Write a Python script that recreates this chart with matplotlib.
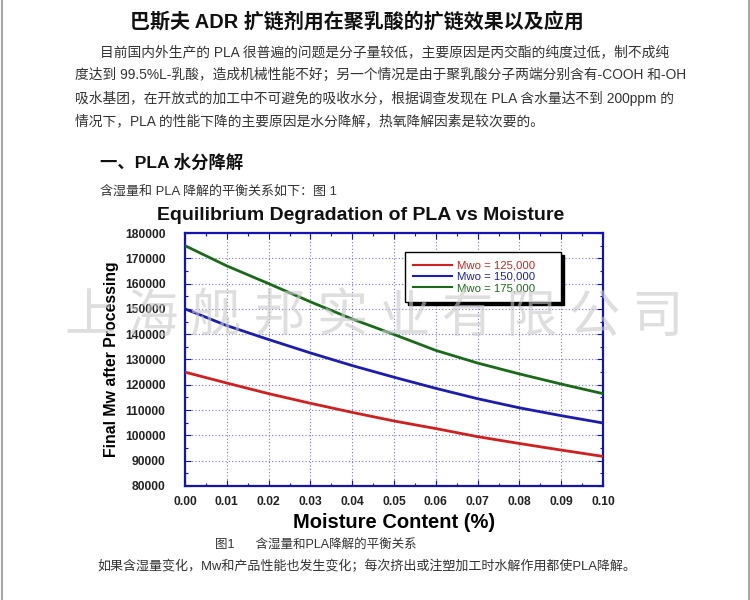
import matplotlib
matplotlib.use("Agg")
import matplotlib.pyplot as plt
from matplotlib.lines import Line2D
from matplotlib.ticker import MultipleLocator, FormatStrFormatter

plt.rcParams['font.family'] = ['Liberation Sans', 'Noto Sans CJK SC', 'DejaVu Sans']

# ---------------- data ----------------
moisture = [0.00, 0.01, 0.02, 0.03, 0.04, 0.05, 0.06, 0.07, 0.08, 0.09, 0.10]
mw_125 = [125000, 120700, 116500, 112700, 109100, 105700, 102700, 99500, 96800, 94200, 91700]
mw_150 = [150000, 143400, 137900, 132600, 127600, 123000, 118600, 114500, 110900, 107800, 104900]
mw_175 = [175000, 167000, 160000, 152800, 146000, 139900, 133600, 128600, 124300, 120300, 116500]
series_labels = ["Mwo = 125,000", "Mwo = 150,000", "Mwo = 175,000"]
series_colors = ["#d02020", "#1c1cb0", "#1a6a1a"]

page_title = "巴斯夫 ADR 扩链剂用在聚乳酸的扩链效果以及应用"
para_lines = [
    "目前国内外生产的 PLA 很普遍的问题是分子量较低，主要原因是丙交酯的纯度过低，制不成纯",
    "度达到 99.5%L-乳酸，造成机械性能不好；另一个情况是由于聚乳酸分子两端分别含有-COOH 和-OH",
    "吸水基团，在开放式的加工中不可避免的吸收水分，根据调查发现在 PLA 含水量达不到 200ppm 的",
    "情况下，PLA 的性能下降的主要原因是水分降解，热氧降解因素是较次要的。",
]
section_head = "一、PLA 水分降解"
intro_line = "含湿量和 PLA 降解的平衡关系如下：图 1"
chart_title = "Equilibrium Degradation of PLA vs Moisture"
caption = "图1      含湿量和PLA降解的平衡关系"
last_line = "如果含湿量变化，Mw和产品性能也发生变化；每次挤出或注塑加工时水解作用都使PLA降解。"
watermark = "上海舰邦实业有限公司"

# ---------------- page ----------------
W, H = 750, 600
fig = plt.figure(figsize=(7.5, 6), dpi=100)
fig.patch.set_facecolor("white")


def fy(py):
    return 1 - py / H


def fx(px):
    return px / W


# side borders of the scanned page
fig.add_artist(Line2D([fx(2), fx(2)], [0, 1], color="#a8a8a8", lw=1.5))
fig.add_artist(Line2D([fx(748.5), fx(748.5)], [0, 1], color="#a8a8a8", lw=1.5))

fig.text(fx(357), fy(23), page_title, ha="center", va="center",
         fontsize=14.4, fontweight="bold", color="#111111")

para_x = [100, 75, 75, 75]
para_y = [52, 75, 98, 121]
for x, y, line in zip(para_x, para_y, para_lines):
    fig.text(fx(x), fy(y), line, ha="left", va="center", fontsize=9.9, color="#333333")

fig.text(fx(100), fy(162), section_head, ha="left", va="center",
         fontsize=12.5, fontweight="bold", color="#111111")
fig.text(fx(100), fy(191), intro_line, ha="left", va="center",
         fontsize=9.4, color="#333333")

fig.text(fx(361), fy(215), chart_title, ha="center", va="center",
         fontsize=14, fontweight="bold", color="#111111")

# ---------------- chart ----------------
ax = fig.add_axes([fx(185), fy(486), (603 - 185) / W, (486 - 233) / H])

for vals, lab, col in zip([mw_125, mw_150, mw_175], series_labels, series_colors):
    ax.plot(moisture, vals, color=col, lw=2.0, label=lab, zorder=3)

ax.set_xlim(0, 0.10)
ax.set_ylim(80000, 180000)
ax.xaxis.set_major_locator(MultipleLocator(0.01))
ax.xaxis.set_minor_locator(MultipleLocator(0.005))
ax.yaxis.set_major_locator(MultipleLocator(10000))
ax.yaxis.set_minor_locator(MultipleLocator(5000))
ax.xaxis.set_major_formatter(FormatStrFormatter("%.2f"))
ax.yaxis.set_major_formatter(FormatStrFormatter("%d"))

ax.grid(True, which="major", linestyle=(0, (1, 2)), color="#7878d0", lw=0.8)
for s in ax.spines.values():
    s.set_color("#1414b4")
    s.set_linewidth(1.6)
ax.tick_params(which="both", direction="in", top=True, right=True, color="#1414b4")
ax.tick_params(which="major", length=4, width=0.8, labelsize=8.7)
ax.tick_params(axis="y", which="major", pad=14)
ax.tick_params(axis="x", which="major", pad=7)
ax.tick_params(which="minor", length=2.5, width=0.8)
for lbl in ax.get_xticklabels() + ax.get_yticklabels():
    lbl.set_fontweight("bold")
    lbl.set_color("#222222")

ax.set_xlabel("Moisture Content (%)", fontsize=14.5, fontweight="bold", labelpad=4)
ax.set_ylabel("Final Mw after Processing", fontsize=11.4, fontweight="bold", labelpad=4)

leg = ax.legend(loc="upper left", bbox_to_anchor=(0.526, 0.925, 0.373, 0.0),
                mode="expand", fontsize=8.2,
                frameon=True, fancybox=False, edgecolor="black",
                shadow={"color": "black", "alpha": 1.0, "ox": 2.2, "oy": -2.2},
                labelcolor="linecolor", handlelength=3.4, handletextpad=0.45,
                labelspacing=0.12, borderpad=0.75, borderaxespad=0)
leg.get_frame().set_linewidth(1.0)
for h in leg.legend_handles:
    h.set_linewidth(1.5)

# ---------------- captions ----------------
fig.text(fx(215), fy(546), caption, ha="left", va="center", fontsize=9.0, color="#333333")
fig.text(fx(97), fy(566), last_line, ha="left", va="center", fontsize=9.4, color="#333333")

# ---------------- watermark ----------------
for i, ch in enumerate(watermark):
    fig.text(fx(90 + 63 * i), fy(318), ch, ha="center", va="center",
             fontsize=37, fontweight="light", color="#c8c8c8", alpha=0.6, zorder=10)

fig.savefig("out.png", dpi=100)
